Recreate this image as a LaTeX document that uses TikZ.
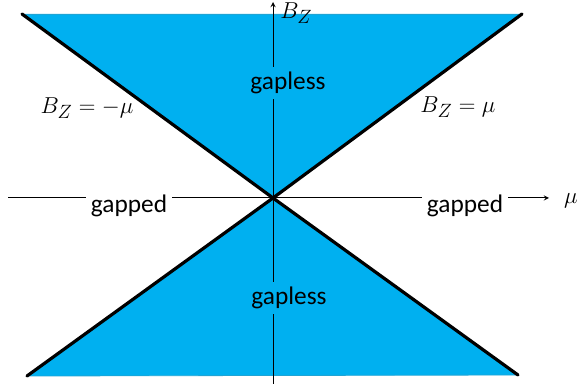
\documentclass[tikz,border=0pt]{standalone}
\usepackage{fontspec}
\setmainfont{Carlito}
\definecolor{gapblue}{HTML}{00B0F0}

\begin{document}
\begin{tikzpicture}[>=stealth, x=0.75pt, y=-0.75pt]
    \useasboundingbox (0,0) rectangle (579,388);
    \tikzset{
        lbl/.style={font=\fontsize{19}{23}\selectfont, inner sep=4pt},
        mlbl/.style={font=\fontsize{19}{23}\selectfont, inner sep=2pt},
        phase/.style={line width=2.4pt, line cap=round}
    }

    % corners and origin
    \coordinate (O) at (273,198);
    \coordinate (TL) at (22,14);
    \coordinate (TR) at (522,14);
    \coordinate (BL) at (27,376);
    \coordinate (BR) at (518,375);

    % 1. gapless regions
    \fill[gapblue] (O) -- (TL) -- (TR) -- cycle;
    \fill[gapblue] (O) -- (BL) -- (BR) -- cycle;
    \draw[gapblue!75!gray, line width=0.6pt] (TL) -- (TR);
    \draw[gapblue!75!gray, line width=0.6pt] (BL) -- (BR);

    % 2. axes
    \coordinate (xl) at (8,198);
    \coordinate (xr) at (549,198);
    \coordinate (yb) at (273,384);
    \coordinate (yt) at (273,2);
    \draw[->, line width=0.75pt] (xl) -- (xr);
    \draw[->, line width=0.75pt] (yb) -- (yt);
    \node[mlbl] (mu) at (571,201) {$\mu$};
    \node[mlbl, anchor=west, inner sep=0pt] (bz) at (280,13) {$B_Z$};

    % 3. phase boundaries
    \draw[phase] (TL) -- (O) -- (BR);
    \draw[phase] (TR) -- (O) -- (BL);
    \node[mlbl] (left) at (87,108) {$B_Z=-\mu$};
    \node[mlbl] (right) at (458,107) {$B_Z=\mu$};

    % 4. phase labels
    \node[lbl, fill=white] (gapL) at (129,206) {gapped};
    \node[lbl, fill=white] (gapR) at (465,206) {gapped};
    \node[lbl, fill=gapblue] (lessT) at (288,83) {gapless};
    \node[lbl, fill=gapblue] (lessB) at (289,298) {gapless};
\end{tikzpicture}
\end{document}
